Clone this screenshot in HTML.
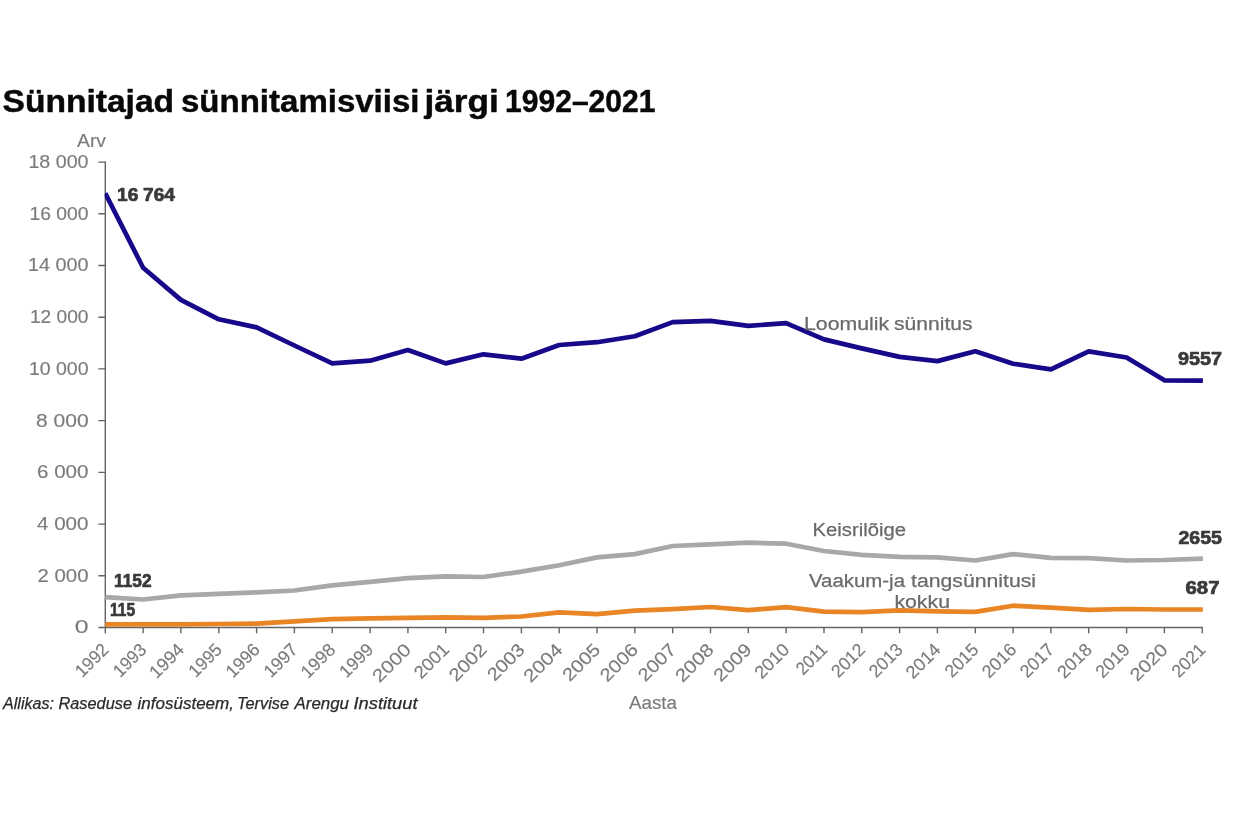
<!DOCTYPE html>
<html lang="et">
<head>
<meta charset="utf-8">
<title>Sünnitajad sünnitamisviisi järgi 1992–2021</title>
<style>
html,body{margin:0;padding:0;background:#fff;}
body{width:1240px;height:840px;overflow:hidden;}
svg{display:block;}
text{font-family:"Liberation Sans", sans-serif;white-space:pre;}
.ax{fill:#7b7b7b;font-size:18px;stroke:#7b7b7b;stroke-width:0.15px;}
.dl{fill:#3a3a3a;font-size:18px;font-weight:bold;stroke:#3a3a3a;stroke-width:0.7px;stroke-linejoin:round;word-spacing:-0.5px;}
.sl{fill:#6a6a6a;font-size:18px;stroke:#6a6a6a;stroke-width:0.25px;}
.ttl{fill:#080808;font-size:31px;font-weight:bold;stroke:#080808;stroke-width:0.45px;stroke-linejoin:round;}
.src{fill:#2b2b2b;font-size:15.6px;font-style:italic;stroke:#2b2b2b;stroke-width:0.25px;}
</style>
</head>
<body>
<svg width="1240" height="840" viewBox="0 0 1240 840">
<rect width="1240" height="840" fill="#ffffff"/>
<text class="ttl" y="111.9"><tspan x="2.5" textLength="171.6" lengthAdjust="spacingAndGlyphs">Sünnitajad</tspan> <tspan x="181.0" textLength="238.5" lengthAdjust="spacingAndGlyphs">sünnitamisviisi</tspan> <tspan x="424.4" textLength="74.3" lengthAdjust="spacingAndGlyphs">järgi</tspan> <tspan x="505.0" textLength="150.5" lengthAdjust="spacingAndGlyphs">1992–2021</tspan></text>
<text class="ax" x="77.0" y="146.9" textLength="29.0" lengthAdjust="spacingAndGlyphs">Arv</text>
<text class="ax" x="74.8" y="633.4" textLength="13.8" lengthAdjust="spacingAndGlyphs">0</text>
<text class="ax" x="37.5" y="581.7" textLength="51.0" lengthAdjust="spacingAndGlyphs">2 000</text>
<text class="ax" x="37.0" y="530.0" textLength="51.5" lengthAdjust="spacingAndGlyphs">4 000</text>
<text class="ax" x="37.0" y="478.2" textLength="51.5" lengthAdjust="spacingAndGlyphs">6 000</text>
<text class="ax" x="36.0" y="426.5" textLength="52.6" lengthAdjust="spacingAndGlyphs">8 000</text>
<text class="ax" x="28.9" y="374.8" textLength="59.6" lengthAdjust="spacingAndGlyphs">10 000</text>
<text class="ax" x="29.9" y="323.1" textLength="58.6" lengthAdjust="spacingAndGlyphs">12 000</text>
<text class="ax" x="28.0" y="271.4" textLength="60.5" lengthAdjust="spacingAndGlyphs">14 000</text>
<text class="ax" x="29.4" y="219.7" textLength="59.1" lengthAdjust="spacingAndGlyphs">16 000</text>
<text class="ax" x="28.4" y="168.0" textLength="60.1" lengthAdjust="spacingAndGlyphs">18 000</text>
<g stroke="#646464" stroke-width="1.4" fill="none">
<path d="M105.3 161.4V633.3"/>
<path d="M98.4 627.5H1202.9"/>
<path d="M98.4 575.8H105.3M98.4 524.1H105.3M98.4 472.4H105.3M98.4 420.6H105.3M98.4 368.9H105.3M98.4 317.2H105.3M98.4 265.5H105.3M98.4 213.8H105.3M98.4 162.1H105.3"/>
<path d="M143.1 627.5v5.8M180.9 627.5v5.8M218.8 627.5v5.8M256.6 627.5v5.8M294.4 627.5v5.8M332.2 627.5v5.8M370.1 627.5v5.8M407.9 627.5v5.8M445.7 627.5v5.8M483.5 627.5v5.8M521.4 627.5v5.8M559.2 627.5v5.8M597.0 627.5v5.8M634.8 627.5v5.8M672.7 627.5v5.8M710.5 627.5v5.8M748.3 627.5v5.8M786.1 627.5v5.8M824.0 627.5v5.8M861.8 627.5v5.8M899.6 627.5v5.8M937.4 627.5v5.8M975.3 627.5v5.8M1013.1 627.5v5.8M1050.9 627.5v5.8M1088.7 627.5v5.8M1126.6 627.5v5.8M1164.4 627.5v5.8M1202.2 627.5v5.8"/>
</g>
<clipPath id="plot"><rect x="104.7" y="150" width="1110" height="477.7"/></clipPath>
<g clip-path="url(#plot)">
<polyline points="105.3,597.2 143.1,599.5 180.9,595.4 218.8,593.8 256.6,592.3 294.4,590.5 332.2,585.3 370.1,581.9 407.9,578.1 445.7,576.3 483.5,577.0 521.4,571.6 559.2,565.2 597.0,557.4 634.8,554.1 672.7,546.0 710.5,544.3 748.3,542.7 786.1,543.7 824.0,551.0 861.8,554.8 899.6,556.9 937.4,557.4 975.3,560.5 1013.1,554.1 1050.9,557.9 1088.7,558.2 1126.6,560.5 1164.4,560.0 1202.9,558.6" fill="none" stroke="#a8a8a8" stroke-width="4.7" stroke-linejoin="round"/>
<polyline points="105.3,624.3 143.1,624.4 180.9,624.3 218.8,624.0 256.6,623.7 294.4,621.4 332.2,619.1 370.1,618.3 407.9,617.8 445.7,617.3 483.5,617.8 521.4,616.5 559.2,612.4 597.0,614.2 634.8,610.6 672.7,609.2 710.5,607.0 748.3,610.1 786.1,607.2 824.0,611.6 861.8,612.1 899.6,610.3 937.4,611.4 975.3,611.9 1013.1,605.7 1050.9,607.7 1088.7,609.8 1126.6,609.0 1164.4,609.5 1202.9,609.5" fill="none" stroke="#ea8525" stroke-width="4.7" stroke-linejoin="round"/>
<polyline points="105.3,193.4 143.1,267.7 180.9,299.9 218.8,319.3 256.6,327.4 294.4,345.5 332.2,363.3 370.1,360.7 407.9,350.0 445.7,363.4 483.5,354.3 521.4,358.7 559.2,345.0 597.0,342.2 634.8,336.3 672.7,322.1 710.5,320.8 748.3,325.9 786.1,323.1 824.0,339.4 861.8,348.4 899.6,356.9 937.4,361.1 975.3,351.3 1013.1,363.7 1050.9,369.4 1088.7,351.4 1126.6,357.5 1164.4,380.3 1202.9,380.6" fill="none" stroke="#17098a" stroke-width="4.7" stroke-linejoin="round"/>
</g>
<g class="ax" text-anchor="end">
<text transform="translate(109.7 650.8) rotate(-45)" textLength="38.9" lengthAdjust="spacingAndGlyphs">1992</text>
<text transform="translate(147.5 650.8) rotate(-45)" textLength="38.7" lengthAdjust="spacingAndGlyphs">1993</text>
<text transform="translate(185.3 650.8) rotate(-45)" textLength="40.7" lengthAdjust="spacingAndGlyphs">1994</text>
<text transform="translate(223.2 650.8) rotate(-45)" textLength="38.9" lengthAdjust="spacingAndGlyphs">1995</text>
<text transform="translate(261.0 650.8) rotate(-45)" textLength="39.7" lengthAdjust="spacingAndGlyphs">1996</text>
<text transform="translate(298.8 650.8) rotate(-45)" textLength="39.3" lengthAdjust="spacingAndGlyphs">1997</text>
<text transform="translate(336.6 650.8) rotate(-45)" textLength="40.3" lengthAdjust="spacingAndGlyphs">1998</text>
<text transform="translate(374.5 650.8) rotate(-45)" textLength="39.7" lengthAdjust="spacingAndGlyphs">1999</text>
<text transform="translate(412.3 650.8) rotate(-45)" textLength="46.3" lengthAdjust="spacingAndGlyphs">2000</text>
<text transform="translate(450.1 650.8) rotate(-45)" textLength="40.8" lengthAdjust="spacingAndGlyphs">2001</text>
<text transform="translate(487.9 650.8) rotate(-45)" textLength="44.7" lengthAdjust="spacingAndGlyphs">2002</text>
<text transform="translate(525.8 650.8) rotate(-45)" textLength="44.3" lengthAdjust="spacingAndGlyphs">2003</text>
<text transform="translate(563.6 650.8) rotate(-45)" textLength="46.3" lengthAdjust="spacingAndGlyphs">2004</text>
<text transform="translate(601.4 650.8) rotate(-45)" textLength="44.6" lengthAdjust="spacingAndGlyphs">2005</text>
<text transform="translate(639.2 650.8) rotate(-45)" textLength="45.3" lengthAdjust="spacingAndGlyphs">2006</text>
<text transform="translate(677.1 650.8) rotate(-45)" textLength="44.9" lengthAdjust="spacingAndGlyphs">2007</text>
<text transform="translate(714.9 650.8) rotate(-45)" textLength="45.9" lengthAdjust="spacingAndGlyphs">2008</text>
<text transform="translate(752.7 650.8) rotate(-45)" textLength="45.3" lengthAdjust="spacingAndGlyphs">2009</text>
<text transform="translate(790.5 650.8) rotate(-45)" textLength="40.8" lengthAdjust="spacingAndGlyphs">2010</text>
<text transform="translate(828.4 650.8) rotate(-45)" textLength="35.4" lengthAdjust="spacingAndGlyphs">2011</text>
<text transform="translate(866.2 650.8) rotate(-45)" textLength="39.2" lengthAdjust="spacingAndGlyphs">2012</text>
<text transform="translate(904.0 650.8) rotate(-45)" textLength="39.1" lengthAdjust="spacingAndGlyphs">2013</text>
<text transform="translate(941.8 650.8) rotate(-45)" textLength="40.8" lengthAdjust="spacingAndGlyphs">2014</text>
<text transform="translate(979.7 650.8) rotate(-45)" textLength="39.2" lengthAdjust="spacingAndGlyphs">2015</text>
<text transform="translate(1017.5 650.8) rotate(-45)" textLength="39.9" lengthAdjust="spacingAndGlyphs">2016</text>
<text transform="translate(1055.3 650.8) rotate(-45)" textLength="39.5" lengthAdjust="spacingAndGlyphs">2017</text>
<text transform="translate(1093.1 650.8) rotate(-45)" textLength="40.5" lengthAdjust="spacingAndGlyphs">2018</text>
<text transform="translate(1131.0 650.8) rotate(-45)" textLength="39.9" lengthAdjust="spacingAndGlyphs">2019</text>
<text transform="translate(1168.8 650.8) rotate(-45)" textLength="44.6" lengthAdjust="spacingAndGlyphs">2020</text>
<text transform="translate(1206.6 650.8) rotate(-45)" textLength="39.2" lengthAdjust="spacingAndGlyphs">2021</text>
</g>
<text class="ax" x="629.0" y="708.6" textLength="48.0" lengthAdjust="spacingAndGlyphs">Aasta</text>
<text class="sl" y="329.8"><tspan x="804.0" textLength="85.1" lengthAdjust="spacingAndGlyphs">Loomulik</tspan> <tspan x="894.0" textLength="78.5" lengthAdjust="spacingAndGlyphs">sünnitus</tspan></text>
<text class="sl" x="812.5" y="536.1" textLength="93.5" lengthAdjust="spacingAndGlyphs">Keisrilõige</text>
<text class="sl" y="586.7"><tspan x="809.0" textLength="96.0" lengthAdjust="spacingAndGlyphs">Vaakum-ja</tspan> <tspan x="911.0" textLength="125.0" lengthAdjust="spacingAndGlyphs">tangsünnitusi</tspan></text>
<text class="sl" x="894.4" y="607.8" textLength="55.6" lengthAdjust="spacingAndGlyphs">kokku</text>
<text class="dl" x="117.0" y="200.9" textLength="58.0" lengthAdjust="spacingAndGlyphs">16 764</text>
<text class="dl" x="1178.0" y="365.4" textLength="44.0" lengthAdjust="spacingAndGlyphs">9557</text>
<text class="dl" x="114.0" y="586.9" textLength="37.5" lengthAdjust="spacingAndGlyphs">1152</text>
<text class="dl" x="110.0" y="615.9" textLength="25.0" lengthAdjust="spacingAndGlyphs">115</text>
<text class="dl" x="1178.5" y="543.5" textLength="43.5" lengthAdjust="spacingAndGlyphs">2655</text>
<text class="dl" x="1185.5" y="594.4" textLength="34.0" lengthAdjust="spacingAndGlyphs">687</text>
<text class="src" y="708.5"><tspan x="3.0" textLength="51.0" lengthAdjust="spacingAndGlyphs">Allikas:</tspan> <tspan x="58.5" textLength="73.5" lengthAdjust="spacingAndGlyphs">Raseduse</tspan> <tspan x="137.5" textLength="96.5" lengthAdjust="spacingAndGlyphs">infosüsteem,</tspan> <tspan x="237.0" textLength="52.0" lengthAdjust="spacingAndGlyphs">Tervise</tspan> <tspan x="294.5" textLength="54.5" lengthAdjust="spacingAndGlyphs">Arengu</tspan> <tspan x="353.5" textLength="64.0" lengthAdjust="spacingAndGlyphs">Instituut</tspan></text>
</svg>
</body>
</html>
